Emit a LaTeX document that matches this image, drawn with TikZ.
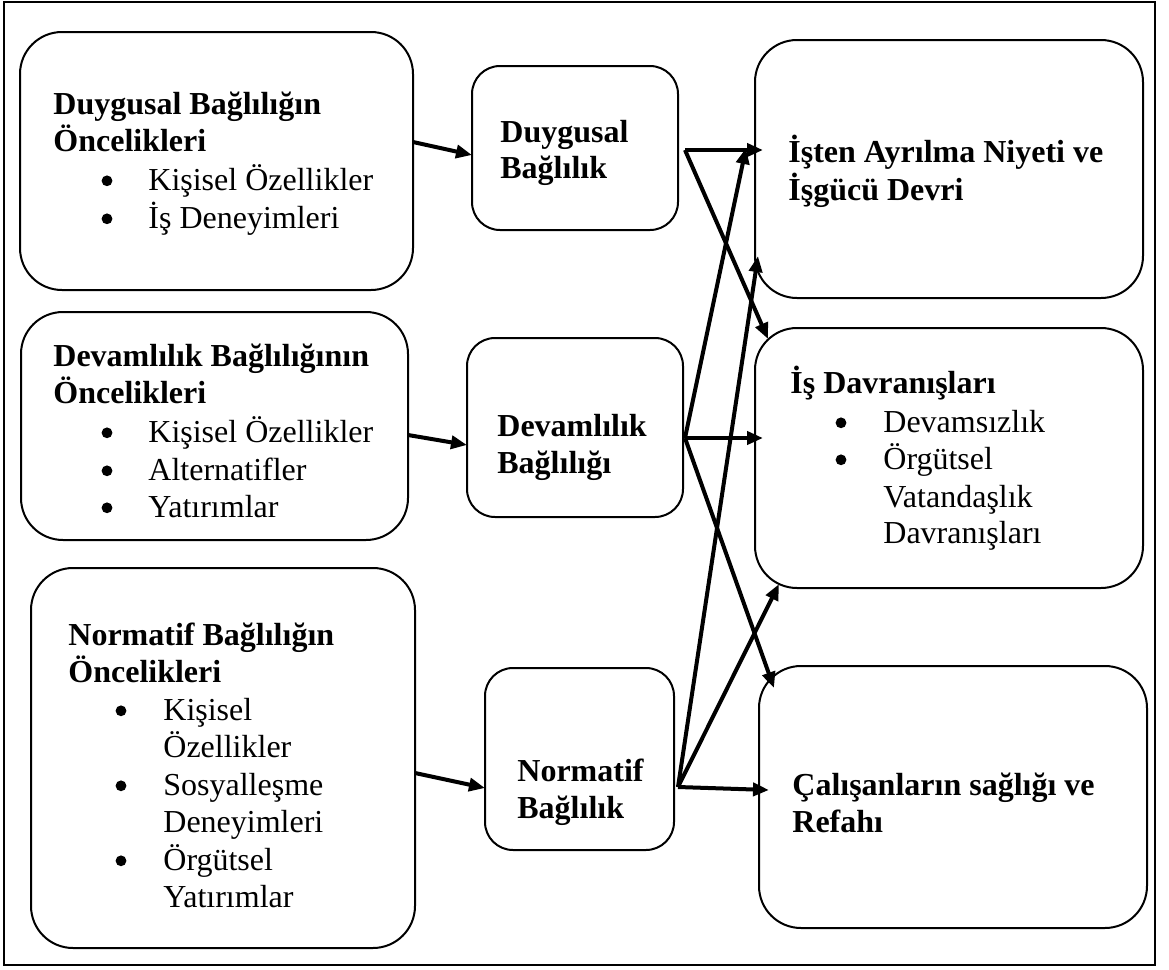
\documentclass[tikz,border=0pt]{standalone}
\usepackage{fontspec}
\setmainfont{Liberation Serif}
\usetikzlibrary{arrows.meta,fit}
\begin{document}
\begin{tikzpicture}[x=0.5pt,y=-0.5pt,
  box/.style={draw, line width=1pt, inner sep=0pt},
  bigbox/.style={box, rounded corners=21pt},
  smallbox/.style={box, rounded corners=14pt},
  head/.style={anchor=base west, inner sep=0pt, font=\fontsize{16pt}{18.75pt}\selectfont\bfseries},
  item/.style={anchor=base west, inner sep=0pt, font=\fontsize{16pt}{18.75pt}\selectfont},
  dot/.style={circle, fill, inner sep=0pt, minimum size=5.4pt, yshift=4.6pt},
  link/.style={line width=2pt, -{Triangle[length=8pt,width=6.5pt]}}]
\useasboundingbox (0,0) rectangle (1169,970);
\draw[line width=0.75pt] (4,2) rectangle (1155,965);

% antecedent boxes
\node[bigbox, fit={(20,32) (413,290)}] (a1) {};
\node[bigbox, fit={(21,312) (408,540)}] (a2) {};
\node[bigbox, fit={(31,568) (415,948)}] (a3) {};
% commitment boxes
\node[smallbox, fit={(472,66) (678,230)}] (b1) {};
\node[smallbox, fit={(467,338) (683,517)}] (b2) {};
\node[smallbox, fit={(485,668) (674,850)}] (b3) {};
% outcome boxes
\node[bigbox, fit={(755,40) (1143,298)}] (c1) {};
\node[bigbox, fit={(755,328) (1143,588)}] (c2) {};
\node[bigbox, fit={(759,666) (1147,928)}] (c3) {};

% texts of the antecedent boxes
\node[head] (a1h1) at (53,114) {Duygusal Bağlılığın};
\node[head] (a1h2) at (53,151) {Öncelikleri};
\node[dot]  (a1d1) at (107,190) {};
\node[item] (a1t1) at (148,190) {Kişisel Özellikler};
\node[dot]  (a1d2) at (107,228) {};
\node[item] (a1t2) at (148,228) {İş Deneyimleri};

\node[head] (a2h1) at (53,366) {Devamlılık Bağlılığının};
\node[head] (a2h2) at (53,403) {Öncelikleri};
\node[dot]  (a2d1) at (107,442) {};
\node[item] (a2t1) at (148,442) {Kişisel Özellikler};
\node[dot]  (a2d2) at (107,480) {};
\node[item] (a2t2) at (148,480) {Alternatifler};
\node[dot]  (a2d3) at (107,517) {};
\node[item] (a2t3) at (148,517) {Yatırımlar};

\node[head] (a3h1) at (68,645) {Normatif Bağlılığın};
\node[head] (a3h2) at (68,682) {Öncelikleri};
\node[dot]  (a3d1) at (121,720) {};
\node[item] (a3t1) at (163,720) {Kişisel};
\node[item] (a3t2) at (163,757) {Özellikler};
\node[dot]  (a3d2) at (121,795) {};
\node[item] (a3t3) at (163,795) {Sosyalleşme};
\node[item] (a3t4) at (163,832) {Deneyimleri};
\node[dot]  (a3d3) at (121,870) {};
\node[item] (a3t5) at (163,870) {Örgütsel};
\node[item] (a3t6) at (163,907) {Yatırımlar};

% texts of the commitment boxes
\node[head] (b1h1) at (500,142) {Duygusal};
\node[head] (b1h2) at (500,178) {Bağlılık};
\node[head] (b2h1) at (497,436) {Devamlılık};
\node[head] (b2h2) at (497,473) {Bağlılığı};
\node[head] (b3h1) at (517,781) {Normatif};
\node[head] (b3h2) at (517,818) {Bağlılık};

% texts of the outcome boxes
\node[head] (c1h1) at (788,162) {İşten Ayrılma Niyeti ve};
\node[head] (c1h2) at (788,200) {İşgücü Devri};

\node[head] (c2h1) at (790,393) {İş Davranışları};
\node[dot]  (c2d1) at (841,432) {};
\node[item] (c2t1) at (883,432) {Devamsızlık};
\node[dot]  (c2d2) at (841,469) {};
\node[item] (c2t2) at (883,469) {Örgütsel};
\node[item] (c2t3) at (883,507) {Vatandaşlık};
\node[item] (c2t4) at (883,543) {Davranışları};

\node[head] (c3h1) at (792,795) {Çalışanların sağlığı ve};
\node[head] (c3h2) at (792,832) {Refahı};

% connector end points
\coordinate (a1o) at (413,142);
\coordinate (a2o) at (408,435);
\coordinate (a3o) at (415,773);
\coordinate (b1i) at (472,155);
\coordinate (b2i) at (467,445);
\coordinate (b3i) at (485,788);
\coordinate (b1o) at (685,150);
\coordinate (b2o) at (685,438);
\coordinate (b3o) at (678,787);
\coordinate (c1a) at (763,150);
\coordinate (c1b) at (746,148);
\coordinate (c1c) at (758,256);
\coordinate (c2a) at (768,339);
\coordinate (c2b) at (763,438);
\coordinate (c2c) at (779,584);
\coordinate (c3a) at (774,688);
\coordinate (c3b) at (769,790);

% antecedents to commitments
\draw[link] (a1o) -- (b1i);
\draw[link] (a2o) -- (b2i);
\draw[link] (a3o) -- (b3i);
% commitments to outcomes
\draw[link] (b1o) -- (c1a);
\draw[link] (b1o) -- (c2a);
\draw[link] (b2o) -- (c1b);
\draw[link] (b2o) -- (c2b);
\draw[link] (b2o) -- (c3a);
\draw[link] (b3o) -- (c1c);
\draw[link] (b3o) -- (c2c);
\draw[link] (b3o) -- (c3b);
\end{tikzpicture}
\end{document}
